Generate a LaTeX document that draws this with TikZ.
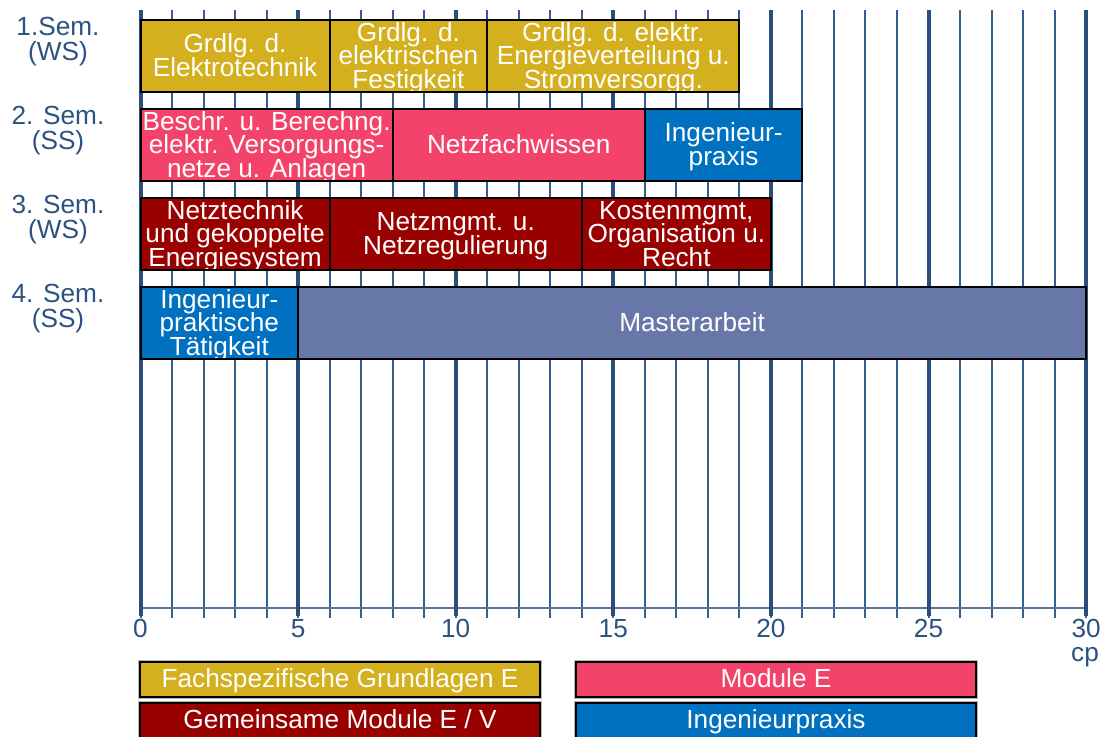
\documentclass[tikz,border=0pt]{standalone}
\usepackage{fontspec}
\setmainfont{Liberation Sans}
\definecolor{gold}{HTML}{D4AF1E}
\definecolor{pinkE}{HTML}{F4436B}
\definecolor{blueP}{HTML}{0070C0}
\definecolor{redG}{HTML}{990000}
\definecolor{slate}{HTML}{6777A8}
\definecolor{gridthick}{HTML}{2A4F7C}
\definecolor{gridthin}{HTML}{33608F}
\definecolor{axisc}{HTML}{5A7398}
\definecolor{labelc}{HTML}{2B5281}

\newcommand\tightlines{\lineskiplimit -20pt\relax\lineskip 0pt\relax}
\newcommand\boxfont{\fontsize{13.1}{11.75}\selectfont\tightlines}
\newcommand\semfont{\fontsize{13.1}{12.25}\selectfont\tightlines}

\tikzset{
  modbox/.style={draw=black, line width=1pt, inner sep=0pt, minimum height=36pt},
  boxtext/.style={text=white, align=center, inner sep=0pt, font=\boxfont},
  semlabel/.style={text=labelc, align=center, inner sep=0pt, font=\semfont},
  ticklabel/.style={text=labelc, anchor=base, inner sep=0pt, font=\fontsize{13.1}{14}\selectfont},
  legbox/.style={draw=black, line width=1pt, preaction={draw=gray!55, line width=2pt},
    inner sep=0pt, minimum width=200pt, text height=12.5pt, text depth=5pt,
    text=white, font=\fontsize{13.1}{14}\selectfont},
  thinline/.style={draw=gridthin, line width=1pt},
  thickline/.style={draw=gridthick, line width=2pt},
  axisline/.style={draw=axisc, line width=0.8pt},
}

% name, from cp, to cp, row, colour, text
\newcommand\modul[6]{%
  \node[modbox, fill=#5, minimum width={(#3-#2)*15.76pt},
    path picture={\node[boxtext, yshift=-4.25pt] at (path picture bounding box.center)
      {\rule{0pt}{10pt}#6\rule[-10pt]{0pt}{10pt}};}]
    (#1) at ({140.5+(#2+#3)*15.76},{56+89*(#4-1)}) {};}

\begin{document}
\begin{tikzpicture}[x=0.5pt, y=-0.5pt]
\useasboundingbox (0,0) rectangle (1106,736);

% grid
\foreach \i in {0,...,30}
  \draw[thinline] ({140.5+\i*31.52},10) -- ({140.5+\i*31.52},618);
\draw[axisline] (140.5,608) -- (1086,608);
\foreach \i in {0,5,...,30}
  \draw[thickline] ({140.5+\i*31.52},10) -- ({140.5+\i*31.52},616);

% tick labels
\foreach \v in {0,5,...,30}
  \node[ticklabel] (tick\v) at ({140.5+\v*31.52},637) {\v};
\node[ticklabel] (cp) at (1085,661) {cp};

% semester labels
\node[semlabel] (sem1) at (58,47.75) {\rule{0pt}{10pt}1.Sem.\\(WS)\rule[-10pt]{0pt}{10pt}};
\node[semlabel] (sem2) at (58,136.75) {\rule{0pt}{10pt}2. Sem.\\(SS)\rule[-10pt]{0pt}{10pt}};
\node[semlabel] (sem3) at (58,225.75) {\rule{0pt}{10pt}3. Sem.\\(WS)\rule[-10pt]{0pt}{10pt}};
\node[semlabel] (sem4) at (58,314.75) {\rule{0pt}{10pt}4. Sem.\\(SS)\rule[-10pt]{0pt}{10pt}};

% modules
\modul{m11}{0}{6}{1}{gold}{Grdlg. d.\\Elektrotechnik}
\modul{m12}{6}{11}{1}{gold}{Grdlg. d.\\elektrischen\\Festigkeit}
\modul{m13}{11}{19}{1}{gold}{Grdlg. d. elektr.\\Energieverteilung u.\\Stromversorgg.}
\modul{m21}{0}{8}{2}{pinkE}{Beschr. u. Berechng.\\elektr. Versorgungs-\\netze u. Anlagen}
\modul{m22}{8}{16}{2}{pinkE}{Netzfachwissen}
\modul{m23}{16}{21}{2}{blueP}{Ingenieur-\\praxis}
\modul{m31}{0}{6}{3}{redG}{Netztechnik\\und gekoppelte\\Energiesystem}
\modul{m32}{6}{14}{3}{redG}{Netzmgmt. u.\\Netzregulierung}
\modul{m33}{14}{20}{3}{redG}{Kostenmgmt,\\Organisation u.\\Recht}
\modul{m41}{0}{5}{4}{blueP}{Ingenieur-\\praktische\\Tätigkeit}
\modul{m42}{5}{30}{4}{slate}{Masterarbeit}

% legend
\node[legbox, fill=gold]  (legA) at (340,679.5) {Fachspezifische Grundlagen E};
\node[legbox, fill=pinkE] (legB) at (776,679.5) {Module E};
\node[legbox, fill=redG]  (legC) at (340,720.5) {Gemeinsame Module E / V};
\node[legbox, fill=blueP] (legD) at (776,720.5) {Ingenieurpraxis};
\end{tikzpicture}
\end{document}
